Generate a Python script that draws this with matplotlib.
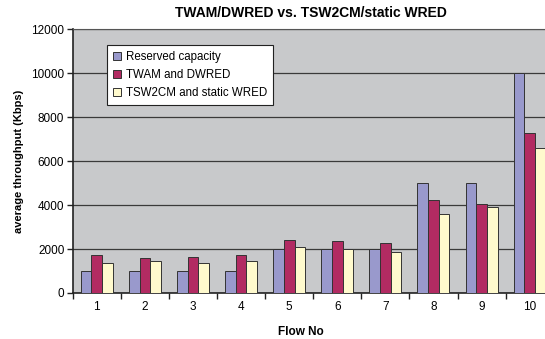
import matplotlib.pyplot as plt
import numpy as np

plt.rcParams['font.family'] = ['Liberation Sans', 'DejaVu Sans']

flows = ['1', '2', '3', '4', '5', '6', '7', '8', '9', '10']
reserved = [1000, 1000, 1000, 1000, 2000, 2000, 2000, 5000, 5000, 10000]
twam_dwred = [1750, 1600, 1650, 1750, 2420, 2370, 2270, 4250, 4050, 7280]
tsw2cm_wred = [1380, 1470, 1380, 1470, 2100, 2000, 1880, 3600, 3900, 6600]

fig = plt.figure(figsize=(5.45, 3.39), dpi=100)
ax = fig.add_axes([0.1334, 0.1357, 0.8826, 0.7779])
ax.set_facecolor('#C8C9CB')

x = np.arange(len(flows))
w = 1 / 4.5  # Excel-style gap width 150%
series = [
    (reserved, '#9999CC', 'Reserved capacity'),
    (twam_dwred, '#B22B62', 'TWAM and DWRED'),
    (tsw2cm_wred, '#FFFACD', 'TSW2CM and static WRED'),
]
for i, (vals, col, lab) in enumerate(series):
    ax.bar(x + (i - 1) * w, vals, width=w, color=col, edgecolor='#333333',
           linewidth=0.7, label=lab, zorder=3)

ax.set_xlim(-0.5, len(flows) - 0.5)
ax.set_ylim(0, 12000)
ax.set_yticks(range(0, 12001, 2000))
ax.yaxis.grid(True, color='#3a3a3a', linewidth=0.9, zorder=1)

ax.set_xticks(x)
ax.set_xticklabels(flows)
ax.set_xticks(np.arange(-0.5, len(flows)), minor=True)
ax.tick_params(axis='x', which='major', length=0, pad=6, labelsize=8.5)
ax.tick_params(axis='x', which='minor', length=4, width=1, color='#222222')
ax.tick_params(axis='y', length=4, width=1, color='#222222', labelsize=8.5, pad=2)

ax.spines['right'].set_visible(False)
ax.spines['top'].set_color('#555555')
ax.spines['left'].set_linewidth(1.2)
ax.spines['bottom'].set_linewidth(1.2)
ax.spines['left'].set_color('#222222')
ax.spines['bottom'].set_color('#222222')

ax.set_xlabel('Flow No', fontsize=8.5, fontweight='bold', labelpad=8)
ax.xaxis.set_label_coords(0.475, -0.125)
ax.set_ylabel('average throughput (Kbps)', fontsize=8, fontweight='bold', labelpad=5)
fig.text(0.571, 0.962, 'TWAM/DWRED vs. TSW2CM/static WRED', ha='center', va='center',
         fontsize=10, fontweight='bold')

leg = ax.legend(loc='upper left', bbox_to_anchor=(0.0707, 0.940), borderaxespad=0,
                fontsize=8.3, frameon=True, fancybox=False, handlelength=0.7,
                handleheight=0.7, handletextpad=0.4, labelspacing=0.5,
                borderpad=0.55)
leg.get_frame().set_edgecolor('#222222')
leg.get_frame().set_linewidth(0.8)
leg.get_frame().set_facecolor('white')
leg.get_frame().set_alpha(1)

fig.savefig('out.png', dpi=100)
